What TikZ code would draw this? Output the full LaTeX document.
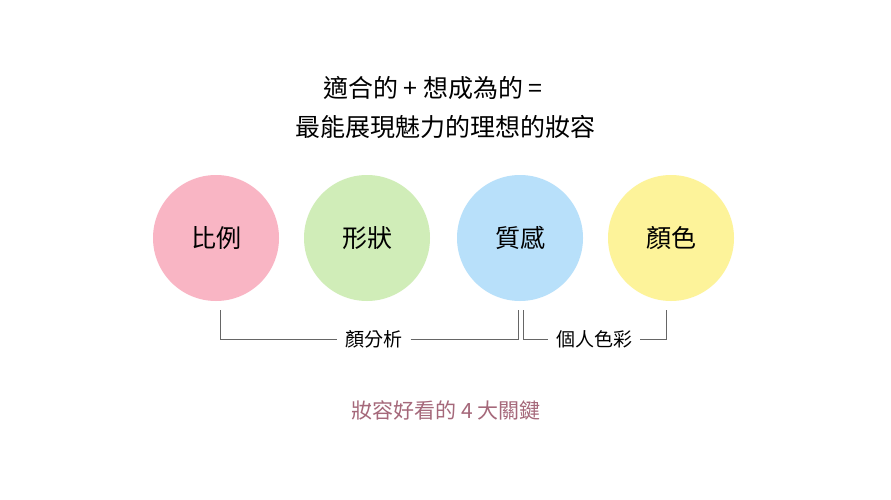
\documentclass[tikz,border=0pt]{standalone}
\usepackage{fontspec}
\setmainfont{Noto Sans CJK TC}
\begin{document}
\begin{tikzpicture}[x=1pt,y=-1pt,
  circ/.style={circle,minimum size=126pt,inner sep=0pt,font=\fontsize{25}{28}\selectfont},
  lab/.style={font=\fontsize{19}{22}\selectfont,inner sep=0pt},
  br/.style={draw=black!60,line width=0.8pt}]
\useasboundingbox[fill=white] (0,0) rectangle (891,500);
\node[font=\fontsize{25}{28}\selectfont] (t1) at (433,88) {適合的 + 想成為的 =};
\node[font=\fontsize{25}{28}\selectfont] (t2) at (445,127) {最能展現魅力的理想的妝容};
\node[circ,fill={rgb,255:red,249;green,181;blue,196}] (c1) at (216,238) {比例};
\node[circ,fill={rgb,255:red,208;green,237;blue,184}] (c2) at (367,238) {形狀};
\node[circ,fill={rgb,255:red,184;green,224;blue,250}] (c3) at (520,238) {質感};
\node[circ,fill={rgb,255:red,253;green,243;blue,154}] (c4) at (671,238) {顏色};
\node[lab] (l1) at (374,339) {顏分析};
\node[lab] (l2) at (594,339) {個人色彩};
\coordinate (a1) at (220,310); \coordinate (a2) at (518,310);
\coordinate (b1) at (523,310); \coordinate (b2) at (666,310);
\draw[br] (a1) |- ([xshift=-8pt]l1.west);
\draw[br] ([xshift=8pt]l1.east) -| (a2);
\draw[br] (b1) |- ([xshift=-8pt]l2.west);
\draw[br] ([xshift=8pt]l2.east) -| (b2);
\node[font=\fontsize{21}{24}\selectfont,text={rgb,255:red,165;green,104;blue,122}] (bt) at (446,410) {妝容好看的 4 大關鍵};
\end{tikzpicture}
\end{document}
